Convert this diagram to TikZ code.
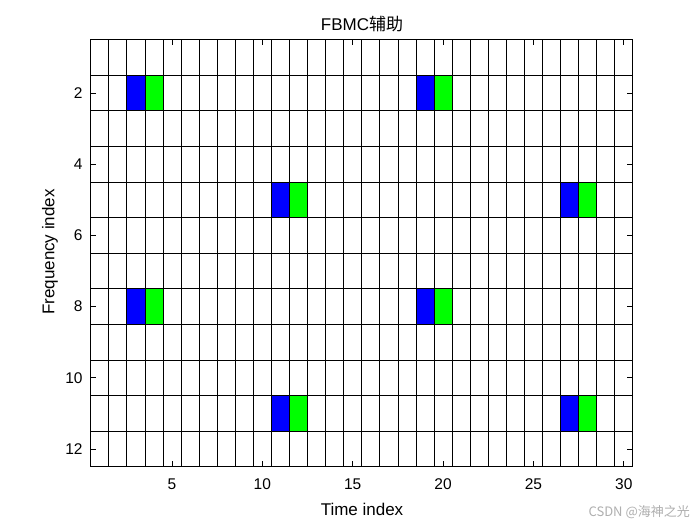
\documentclass[tikz,border=0pt]{standalone}
\usepackage{fontspec}
\setmainfont{Liberation Sans}
\newfontfamily\cjkfont{Noto Sans CJK SC}
\begin{document}
\begin{tikzpicture}[x=1pt,y=1pt,
  gridline/.style={draw=black,line width=0.7pt},
  axisbox/.style={draw=black,line width=1pt},
  tickmark/.style={draw=black,line width=0.8pt},
  ticklabel/.style={font=\fontsize{15.5}{15.5}\selectfont,inner sep=0pt},
  axlabel/.style={font=\fontsize{17}{17}\selectfont,inner sep=0pt},
  bluecell/.style={fill={rgb,255:red,0;green,0;blue,255}},
  greencell/.style={fill={rgb,255:red,0;green,255;blue,0}}]
\useasboundingbox[fill=white] (0,0) rectangle (700,-525);
\begin{scope}[x=18.07pt,y=-35.6pt,shift={(81.665pt,-21.8pt)}]
  % coloured cells
  \foreach \cx/\cy in {3/2,19/2,11/5,27/5,3/8,19/8,11/11,27/11}{
    \path[bluecell] (\cx-0.5,\cy-0.5) rectangle (\cx+0.5,\cy+0.5);
    \path[greencell] (\cx+0.5,\cy-0.5) rectangle (\cx+1.5,\cy+0.5);
  }
  % grid
  \foreach \k in {1,...,29}{
    \draw[gridline] (\k+0.5,0.5) -- (\k+0.5,12.5);
  }
  \foreach \k in {1,...,11}{
    \draw[gridline] (0.5,\k+0.5) -- (30.5,\k+0.5);
  }
  % ticks
  \foreach \t in {5,10,...,30}{
    \draw[tickmark] (\t,12.5) -- ++(0,-0.15);
    \draw[tickmark] (\t,0.5) -- ++(0,0.15);
    \node[ticklabel,anchor=north] (xl\t) at (\t,12.5) [yshift=-12pt] {\t};
  }
  \foreach \t in {2,4,...,12}{
    \draw[tickmark] (0.5,\t) -- ++(0.3,0);
    \draw[tickmark] (30.5,\t) -- ++(-0.3,0);
    \node[ticklabel,anchor=east] (yl\t) at (0.5,\t) [xshift=-8pt] {\t};
  }
  \draw[axisbox] (0.5,0.5) rectangle (30.5,12.5);
\end{scope}
\node[axlabel] (title) at (362,-24) {FBMC{\cjkfont 辅助}};
\node[axlabel] (xlabel) at (362,-509) {Time index};
\node[axlabel,rotate=90] (ylabel) at (50,-252) {Frequency index};
\node[font=\fontsize{13}{13}\selectfont\cjkfont,text={rgb,255:red,175;green,175;blue,175},inner sep=0pt,anchor=east] (wm) at (690,-512) {CSDN @海神之光};
\end{tikzpicture}
\end{document}
